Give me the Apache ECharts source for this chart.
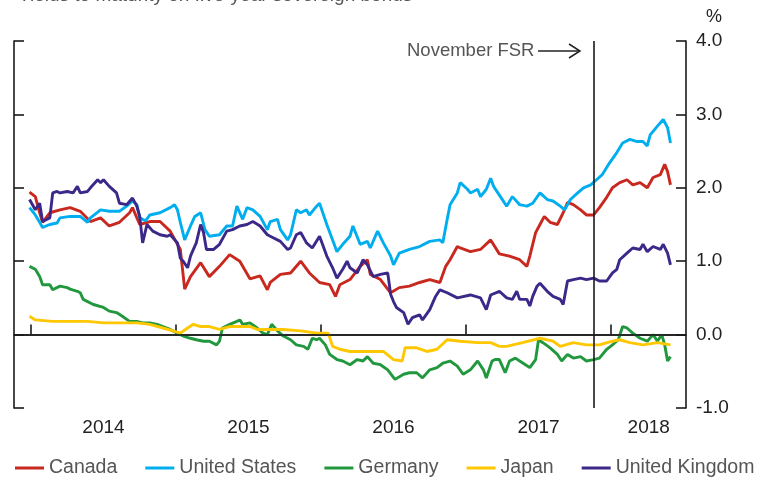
<!DOCTYPE html>
<html>
<head>
<meta charset="utf-8">
<script src="https://cdn.jsdelivr.net/npm/echarts@6/dist/echarts.min.js"></script>
<style>
  html, body { margin: 0; padding: 0; background: #fff; }
  #chart { width: 757px; height: 481px; }
</style>
</head>
<body>
<div id="chart"></div>
<script>
// x values are decimal years
const canada = [[2013.99,1.94],[2014.03,1.88],[2014.06,1.66],[2014.08,1.53],[2014.13,1.66],[2014.20,1.70],[2014.27,1.73],[2014.34,1.68],[2014.41,1.54],[2014.48,1.59],[2014.54,1.48],[2014.61,1.53],[2014.68,1.66],[2014.70,1.73],[2014.75,1.50],[2014.82,1.54],[2014.89,1.54],[2014.96,1.41],[2015.03,1.16],[2015.06,0.62],[2015.10,0.79],[2015.17,0.98],[2015.23,0.79],[2015.30,0.93],[2015.37,1.09],[2015.44,1.00],[2015.51,0.76],[2015.58,0.80],[2015.63,0.61],[2015.65,0.71],[2015.72,0.82],[2015.79,0.84],[2015.86,1.00],[2015.92,0.84],[2015.99,0.71],[2016.06,0.68],[2016.10,0.52],[2016.13,0.68],[2016.20,0.75],[2016.27,0.93],[2016.32,1.02],[2016.34,0.82],[2016.41,0.75],[2016.48,0.57],[2016.54,0.64],[2016.61,0.66],[2016.68,0.71],[2016.75,0.75],[2016.82,0.71],[2016.86,0.93],[2016.89,1.02],[2016.94,1.20],[2016.96,1.18],[2017.03,1.13],[2017.10,1.16],[2017.17,1.29],[2017.23,1.10],[2017.30,1.07],[2017.37,1.02],[2017.42,0.93],[2017.44,1.07],[2017.48,1.39],[2017.51,1.50],[2017.54,1.61],[2017.58,1.53],[2017.63,1.50],[2017.67,1.66],[2017.70,1.80],[2017.74,1.77],[2017.79,1.70],[2017.83,1.63],[2017.88,1.63],[2017.92,1.73],[2017.97,1.87],[2018.01,2.00],[2018.06,2.07],[2018.11,2.11],[2018.15,2.04],[2018.20,2.07],[2018.25,2.00],[2018.29,2.14],[2018.34,2.18],[2018.37,2.32],[2018.39,2.22],[2018.41,2.04]]
const unitedStates = [[2013.99,1.73],[2014.03,1.63],[2014.06,1.53],[2014.08,1.46],[2014.13,1.50],[2014.18,1.52],[2014.20,1.59],[2014.27,1.61],[2014.34,1.61],[2014.39,1.53],[2014.41,1.59],[2014.48,1.70],[2014.54,1.68],[2014.61,1.68],[2014.66,1.75],[2014.70,1.82],[2014.73,1.77],[2014.75,1.59],[2014.79,1.55],[2014.82,1.63],[2014.89,1.66],[2014.96,1.73],[2014.99,1.77],[2015.01,1.70],[2015.03,1.53],[2015.06,1.29],[2015.10,1.48],[2015.13,1.61],[2015.17,1.66],[2015.20,1.43],[2015.23,1.34],[2015.30,1.36],[2015.35,1.48],[2015.39,1.48],[2015.42,1.75],[2015.46,1.57],[2015.49,1.73],[2015.53,1.70],[2015.58,1.61],[2015.63,1.43],[2015.65,1.54],[2015.70,1.57],[2015.72,1.43],[2015.77,1.29],[2015.79,1.36],[2015.83,1.70],[2015.86,1.66],[2015.90,1.70],[2015.92,1.63],[2015.97,1.75],[2015.99,1.79],[2016.04,1.50],[2016.08,1.29],[2016.11,1.13],[2016.15,1.23],[2016.20,1.34],[2016.22,1.48],[2016.27,1.23],[2016.32,1.27],[2016.34,1.18],[2016.39,1.41],[2016.43,1.25],[2016.48,1.07],[2016.50,0.95],[2016.54,1.11],[2016.61,1.16],[2016.68,1.20],[2016.75,1.27],[2016.82,1.29],[2016.84,1.25],[2016.87,1.57],[2016.89,1.77],[2016.94,1.93],[2016.96,2.07],[2017.01,1.98],[2017.03,1.93],[2017.08,1.98],[2017.10,1.88],[2017.14,1.98],[2017.17,2.13],[2017.19,2.02],[2017.23,1.90],[2017.28,1.75],[2017.32,1.88],[2017.37,1.77],[2017.42,1.75],[2017.46,1.79],[2017.51,1.93],[2017.56,1.84],[2017.60,1.82],[2017.65,1.75],[2017.68,1.70],[2017.72,1.84],[2017.77,1.93],[2017.81,2.00],[2017.86,2.04],[2017.90,2.11],[2017.94,2.18],[2017.99,2.34],[2018.04,2.48],[2018.08,2.61],[2018.13,2.66],[2018.18,2.63],[2018.22,2.63],[2018.25,2.57],[2018.27,2.72],[2018.32,2.84],[2018.36,2.93],[2018.39,2.82],[2018.41,2.61]]
const germany = [[2013.99,0.93],[2014.03,0.89],[2014.06,0.79],[2014.08,0.68],[2014.13,0.68],[2014.15,0.61],[2014.20,0.66],[2014.25,0.64],[2014.27,0.62],[2014.32,0.59],[2014.34,0.57],[2014.36,0.48],[2014.43,0.41],[2014.50,0.37],[2014.54,0.32],[2014.59,0.30],[2014.63,0.25],[2014.68,0.18],[2014.73,0.18],[2014.77,0.16],[2014.82,0.16],[2014.87,0.14],[2014.91,0.11],[2014.96,0.07],[2015.01,0.02],[2015.05,-0.02],[2015.10,-0.05],[2015.14,-0.07],[2015.19,-0.09],[2015.23,-0.09],[2015.28,-0.14],[2015.30,-0.09],[2015.32,0.09],[2015.37,0.14],[2015.42,0.18],[2015.44,0.20],[2015.46,0.14],[2015.51,0.16],[2015.56,0.09],[2015.60,0.02],[2015.63,0.00],[2015.66,0.14],[2015.70,0.05],[2015.74,-0.02],[2015.79,-0.07],[2015.83,-0.14],[2015.88,-0.16],[2015.91,-0.20],[2015.94,-0.05],[2015.97,-0.07],[2015.99,-0.05],[2016.03,-0.14],[2016.06,-0.27],[2016.11,-0.34],[2016.15,-0.36],[2016.20,-0.41],[2016.25,-0.34],[2016.29,-0.36],[2016.32,-0.30],[2016.36,-0.39],[2016.41,-0.41],[2016.46,-0.48],[2016.51,-0.61],[2016.57,-0.54],[2016.61,-0.52],[2016.66,-0.52],[2016.70,-0.59],[2016.75,-0.48],[2016.80,-0.45],[2016.84,-0.39],[2016.89,-0.36],[2016.94,-0.43],[2016.98,-0.54],[2017.03,-0.48],[2017.08,-0.36],[2017.12,-0.48],[2017.14,-0.59],[2017.18,-0.36],[2017.20,-0.34],[2017.23,-0.34],[2017.27,-0.52],[2017.30,-0.36],[2017.34,-0.32],[2017.37,-0.36],[2017.41,-0.41],[2017.44,-0.45],[2017.48,-0.34],[2017.50,-0.07],[2017.53,-0.11],[2017.58,-0.18],[2017.63,-0.27],[2017.66,-0.36],[2017.70,-0.27],[2017.74,-0.32],[2017.79,-0.30],[2017.83,-0.36],[2017.88,-0.34],[2017.92,-0.32],[2017.97,-0.20],[2018.01,-0.14],[2018.05,-0.07],[2018.08,0.11],[2018.11,0.09],[2018.15,0.02],[2018.20,-0.05],[2018.25,-0.09],[2018.29,0.00],[2018.32,-0.09],[2018.35,0.00],[2018.37,-0.14],[2018.39,-0.36],[2018.41,-0.30]]
const japan = [[2013.99,0.25],[2014.03,0.20],[2014.15,0.18],[2014.27,0.18],[2014.39,0.18],[2014.50,0.16],[2014.61,0.16],[2014.73,0.16],[2014.82,0.14],[2014.91,0.09],[2014.98,0.05],[2015.03,0.02],[2015.08,0.09],[2015.12,0.14],[2015.17,0.11],[2015.23,0.11],[2015.30,0.07],[2015.37,0.11],[2015.46,0.11],[2015.51,0.11],[2015.56,0.07],[2015.63,0.07],[2015.74,0.07],[2015.86,0.05],[2015.97,0.02],[2016.05,0.02],[2016.08,-0.16],[2016.13,-0.20],[2016.20,-0.23],[2016.32,-0.23],[2016.43,-0.23],[2016.50,-0.34],[2016.56,-0.36],[2016.58,-0.18],[2016.66,-0.18],[2016.73,-0.23],[2016.80,-0.20],[2016.87,-0.07],[2016.96,-0.09],[2017.08,-0.11],[2017.17,-0.11],[2017.23,-0.16],[2017.28,-0.16],[2017.39,-0.11],[2017.51,-0.05],[2017.60,-0.09],[2017.65,-0.16],[2017.74,-0.11],[2017.83,-0.14],[2017.92,-0.14],[2018.01,-0.09],[2018.06,-0.07],[2018.13,-0.11],[2018.22,-0.14],[2018.32,-0.11],[2018.41,-0.14]]
const unitedKingdom = [[2013.99,1.84],[2014.03,1.70],[2014.06,1.79],[2014.08,1.54],[2014.13,1.59],[2014.15,1.93],[2014.18,1.95],[2014.20,1.93],[2014.25,1.95],[2014.29,1.93],[2014.32,2.02],[2014.34,1.93],[2014.39,1.95],[2014.41,2.00],[2014.46,2.11],[2014.48,2.07],[2014.50,2.11],[2014.54,2.02],[2014.59,1.93],[2014.61,1.79],[2014.66,1.77],[2014.70,1.86],[2014.73,1.75],[2014.75,1.61],[2014.77,1.25],[2014.80,1.50],[2014.84,1.41],[2014.89,1.36],[2014.94,1.34],[2014.96,1.36],[2015.01,1.25],[2015.03,1.04],[2015.05,1.00],[2015.08,0.91],[2015.10,1.07],[2015.12,1.16],[2015.14,1.25],[2015.17,1.50],[2015.19,1.39],[2015.21,1.16],[2015.26,1.16],[2015.30,1.23],[2015.35,1.41],[2015.39,1.43],[2015.44,1.48],[2015.49,1.50],[2015.53,1.54],[2015.58,1.48],[2015.63,1.36],[2015.67,1.32],[2015.72,1.27],[2015.77,1.16],[2015.79,1.18],[2015.83,1.36],[2015.86,1.39],[2015.90,1.25],[2015.94,1.18],[2015.99,1.34],[2016.04,1.07],[2016.08,0.91],[2016.11,0.77],[2016.15,0.89],[2016.18,1.00],[2016.20,0.91],[2016.25,0.84],[2016.29,1.02],[2016.32,0.95],[2016.36,0.79],[2016.41,0.82],[2016.46,0.84],[2016.47,0.70],[2016.48,0.55],[2016.50,0.45],[2016.52,0.37],[2016.57,0.30],[2016.60,0.14],[2016.63,0.23],[2016.68,0.27],[2016.70,0.20],[2016.75,0.34],[2016.79,0.52],[2016.82,0.61],[2016.87,0.57],[2016.94,0.50],[2017.03,0.54],[2017.10,0.50],[2017.14,0.34],[2017.17,0.54],[2017.23,0.59],[2017.28,0.50],[2017.32,0.48],[2017.35,0.59],[2017.37,0.48],[2017.42,0.48],[2017.44,0.39],[2017.46,0.52],[2017.49,0.66],[2017.51,0.70],[2017.56,0.59],[2017.60,0.52],[2017.65,0.48],[2017.67,0.41],[2017.70,0.73],[2017.74,0.75],[2017.79,0.77],[2017.83,0.75],[2017.88,0.77],[2017.92,0.73],[2017.97,0.73],[2018.01,0.84],[2018.04,0.89],[2018.06,1.02],[2018.11,1.11],[2018.15,1.18],[2018.20,1.16],[2018.22,1.23],[2018.25,1.13],[2018.29,1.20],[2018.34,1.16],[2018.36,1.23],[2018.39,1.11],[2018.41,0.95]]

const yearTicks = [2014, 2015, 2016, 2017, 2018]
const yearLabelPos = [2014.5, 2015.5, 2016.5, 2017.5, 2018.26]
const fsrDate = 2017.876
const xMin = 2013.883
const xMax = 2018.517

const font = 'Liberation Sans, Arial, Helvetica, sans-serif'
const axisColor = '#1a1a1a'

let chart = echarts.init(document.getElementById('chart'))

function line(name, data, color) {
    return {
        name: name,
        type: 'line',
        data: data,
        showSymbol: false,
        symbol: 'none',
        color: color,
        lineStyle: { width: 2.9, color: color }
    }
}

let series = [
    line('Canada', canada, '#c8281e'),
    line('United States', unitedStates, '#00aeef'),
    line('Germany', germany, '#22983e'),
    line('Japan', japan, '#ffc700'),
    line('United Kingdom', unitedKingdom, '#3c2888')
]
// zero line and the November FSR marker
series[0].markLine = {
    silent: true,
    animation: false,
    symbol: 'none',
    label: { show: false },
    lineStyle: { color: axisColor, type: 'solid', width: 1.6 },
    data: [{ yAxis: 0 }, { xAxis: fsrDate }]
}

chart.setOption({
    animation: false,
    textStyle: { fontFamily: font },
    grid: { left: 14, right: 71, top: 41, bottom: 73, outerBoundsMode: 'none' },
    legend: {
        left: 15,
        top: 458,
        width: 757,
        padding: 0,
        icon: 'rect',
        itemWidth: 29,
        itemHeight: 3,
        itemGap: 28,
        textStyle: { fontSize: 19.5, color: '#555', fontFamily: font },
        data: ['Canada', 'United States', 'Germany', 'Japan', 'United Kingdom']
    },
    xAxis: {
        type: 'value',
        min: xMin,
        max: xMax,
        splitLine: { show: false },
        axisLine: { lineStyle: { color: axisColor, width: 1.6 } },
        axisTick: { inside: true, length: 10, customValues: yearTicks, lineStyle: { color: axisColor, width: 1.6 } },
        axisLabel: {
            customValues: yearLabelPos,
            formatter: function (v) { return String(Math.floor(v)) },
            fontSize: 19,
            color: '#222',
            margin: 10
        }
    },
    yAxis: [{
        type: 'value',
        position: 'right',
        min: -1,
        max: 4,
        interval: 1,
        splitLine: { show: false },
        axisLine: { show: true, lineStyle: { color: axisColor, width: 1.6 } },
        axisTick: { show: true, inside: true, length: 10, lineStyle: { color: axisColor, width: 1.6 } },
        axisLabel: {
            formatter: function (v) { return v.toFixed(1) },
            fontSize: 19,
            color: '#222',
            margin: 10
        }
    }, {
        type: 'value',
        position: 'left',
        min: -1,
        max: 4,
        interval: 1,
        splitLine: { show: false },
        axisLine: { show: true, lineStyle: { color: axisColor, width: 1.6 } },
        axisTick: { show: true, inside: true, length: 10, lineStyle: { color: axisColor, width: 1.6 } },
        axisLabel: { show: false }
    }],
    graphic: [
        { type: 'text', left: 18, top: -14, style: { text: 'Yields to maturity on five-year sovereign bonds', fill: '#555', font: '19px ' + font } },
        { type: 'text', left: 706, top: 8, style: { text: '%', fill: '#222', font: '18px ' + font } },
        { type: 'text', left: 407, top: 41, style: { text: 'November FSR', fill: '#555', font: '18.5px ' + font } },
        { type: 'line', shape: { x1: 538, y1: 51, x2: 580, y2: 51 }, style: { stroke: '#222', lineWidth: 1.5 } },
        { type: 'polyline', shape: { points: [[569, 44], [580, 51], [569, 58]] }, style: { stroke: '#222', lineWidth: 1.5, fill: null } }
    ],
    series: series
})
</script>
</body>
</html>
